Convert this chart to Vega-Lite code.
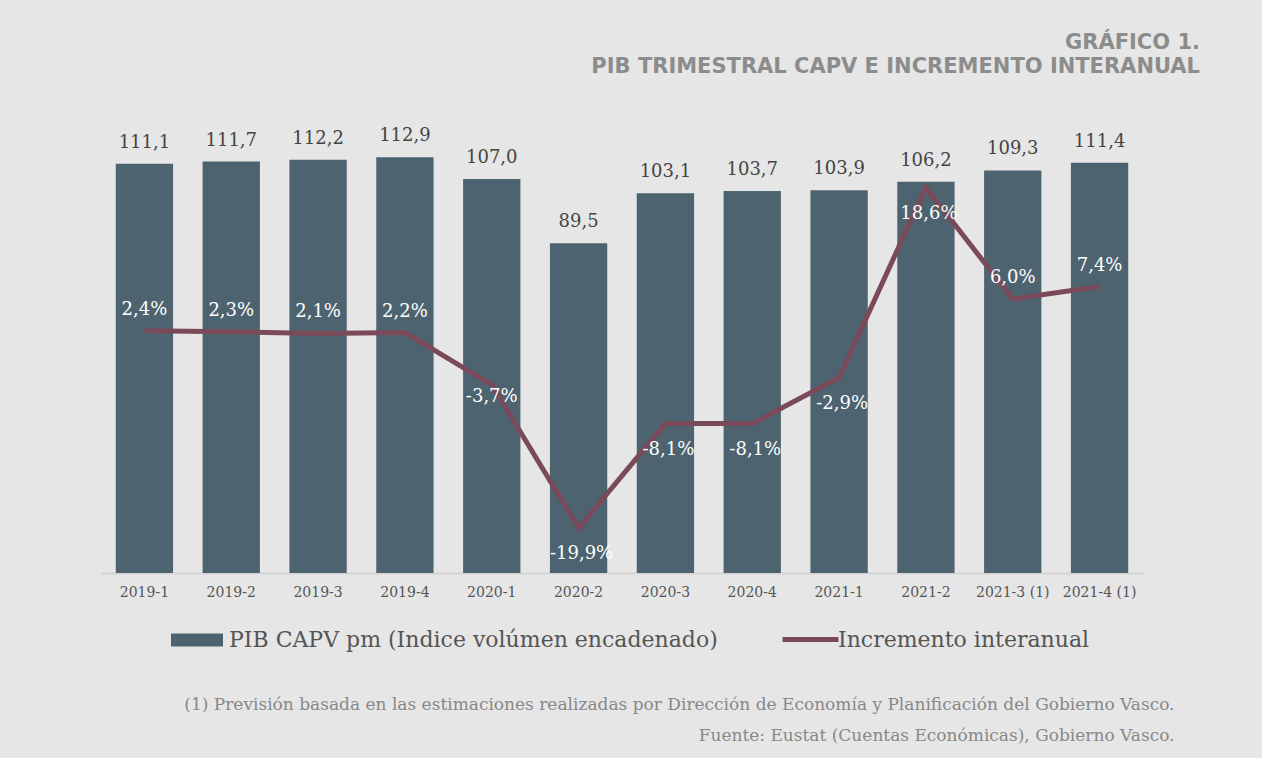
{
  "$schema": "https://vega.github.io/schema/vega-lite/v6.json",
  "width": 1042,
  "height": 442,
  "autosize": {"type": "none"},
  "padding": {"left": 101, "top": 131, "right": 119, "bottom": 185},
  "background": "#e6e6e6",
  "title": {
    "text": ["GRÁFICO 1.", "PIB TRIMESTRAL CAPV E INCREMENTO INTERANUAL"],
    "anchor": "end",
    "font": "DejaVu Sans",
    "fontSize": 21,
    "fontWeight": "bold",
    "color": "#8c8c8c",
    "dx": 26,
    "offset": 50,
    "lineHeight": 24
  },
  "data": {
    "values": [
      {"q": "2019-1", "pib": 111.1, "inc": 0.024},
      {"q": "2019-2", "pib": 111.7, "inc": 0.023},
      {"q": "2019-3", "pib": 112.2, "inc": 0.021},
      {"q": "2019-4", "pib": 112.9, "inc": 0.022},
      {"q": "2020-1", "pib": 107.0, "inc": -0.037},
      {"q": "2020-2", "pib": 89.5, "inc": -0.199},
      {"q": "2020-3", "pib": 103.1, "inc": -0.081},
      {"q": "2020-4", "pib": 103.7, "inc": -0.081},
      {"q": "2021-1", "pib": 103.9, "inc": -0.029},
      {"q": "2021-2", "pib": 106.2, "inc": 0.186},
      {"q": "2021-3 (1)", "pib": 109.3, "inc": 0.060},
      {"q": "2021-4 (1)", "pib": 111.4, "inc": 0.074}
    ]
  },
  "encoding": {
    "x": {
      "field": "q",
      "type": "ordinal",
      "sort": null,
      "scale": {"paddingInner": 0.34, "paddingOuter": 0.17},
      "axis": {
        "labelAngle": 0,
        "labelFont": "DejaVu Serif",
        "labelFontSize": 14,
        "labelColor": "#555555",
        "labelPadding": 12,
        "ticks": false,
        "domainColor": "#d4d4d4",
        "domainWidth": 2,
        "title": ["(1) Previsión basada en las estimaciones realizadas por Dirección de Economía y Planificación del Gobierno Vasco.", "Fuente: Eustat (Cuentas Económicas), Gobierno Vasco."],
        "titleFont": "DejaVu Serif",
        "titleFontSize": 17,
        "titleFontWeight": "normal",
        "titleColor": "#888888",
        "titleAnchor": "end",
        "titleAlign": "right",
        "titleBaseline": "top",
        "titleLineHeight": 31,
        "titleX": 1073,
        "titleY": 123
      }
    }
  },
  "layer": [
    {
      "encoding": {
        "y": {"field": "pib", "type": "quantitative", "scale": {"domain": [0, 120]}, "axis": null}
      },
      "layer": [
        {
          "mark": {"type": "bar"},
          "encoding": {
            "color": {
              "datum": "PIB CAPV pm (Indice volúmen encadenado)",
              "scale": {"range": ["#4d6470"]},
              "legend": {
                "title": null,
                "orient": "none",
                "legendX": 70,
                "legendY": 483,
                "symbolType": "M-1,-0.25H1V0.25H-1Z",
                "symbolSize": 2704,
                "symbolStrokeWidth": 0,
                "labelFont": "DejaVu Serif",
                "labelFontSize": 22,
                "labelColor": "#555555",
                "labelOffset": 6,
                "labelLimit": 600
              }
            }
          }
        },
        {
          "mark": {"type": "text", "font": "DejaVu Serif", "fontSize": 18, "color": "#444444", "baseline": "alphabetic", "dy": -16},
          "encoding": {"text": {"field": "pib", "type": "quantitative", "format": ".1f"}}
        }
      ]
    },
    {
      "encoding": {
        "y": {"field": "inc", "type": "quantitative", "scale": {"domain": [-0.25, 0.25]}, "axis": null}
      },
      "layer": [
        {
          "mark": {"type": "line", "strokeWidth": 5},
          "encoding": {
            "color": {
              "datum": "Incremento interanual",
              "scale": {"range": ["#7b4a5a"]},
              "legend": {
                "title": null,
                "orient": "none",
                "legendX": 679,
                "legendY": 478,
                "symbolType": "stroke",
                "symbolSize": 3136,
                "symbolStrokeWidth": 5,
                "labelFont": "DejaVu Serif",
                "labelFontSize": 22,
                "labelColor": "#555555",
                "labelOffset": -3,
                "labelLimit": 600
              }
            }
          }
        },
        {
          "transform": [{"filter": "datum.inc > 0 && datum.inc < 0.15"}],
          "mark": {"type": "text", "font": "DejaVu Serif", "fontSize": 18, "color": "#ffffff", "baseline": "middle", "dy": -21},
          "encoding": {"text": {"field": "inc", "type": "quantitative", "format": ".1%"}}
        },
        {
          "transform": [{"filter": "datum.inc == -0.037"}],
          "mark": {"type": "text", "font": "DejaVu Serif", "fontSize": 18, "color": "#ffffff", "baseline": "middle", "dy": 12},
          "encoding": {"text": {"field": "inc", "type": "quantitative", "format": ".1%"}}
        },
        {
          "transform": [{"filter": "datum.inc > 0.15 || (datum.inc < 0 && datum.inc != -0.037)"}],
          "mark": {"type": "text", "font": "DejaVu Serif", "fontSize": 18, "color": "#ffffff", "baseline": "middle", "dy": 26, "dx": 3},
          "encoding": {"text": {"field": "inc", "type": "quantitative", "format": ".1%"}}
        }
      ]
    }
  ],
  "resolve": {"scale": {"y": "independent", "color": "independent"}, "legend": {"color": "independent"}},
  "config": {
    "view": {"stroke": null},
    "locale": {
      "number": {"decimal": ",", "thousands": ".", "grouping": [3], "currency": ["", " €"], "minus": "-"}
    }
  }
}
